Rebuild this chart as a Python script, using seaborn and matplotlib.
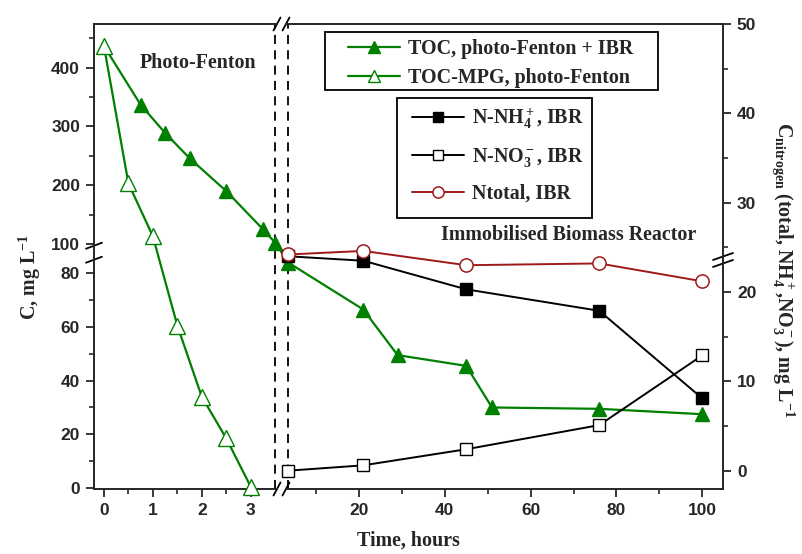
import numpy as np
import matplotlib
matplotlib.use("Agg")
import matplotlib.pyplot as plt
import seaborn as sns
from matplotlib.patches import ConnectionPatch, Rectangle
from matplotlib.ticker import FixedLocator

# photo-Fenton stage: time (h) and TOC (mg/L)
pf_time = [0, 0.75, 1.25, 1.75, 2.5, 3.25, 3.5]
pf_toc = [437, 337, 289, 246, 190, 125, 102]
mpg_time = [0, 0.5, 1.0, 1.5, 2.0, 2.5, 3.0]
mpg_toc = [437, 203, 113, 60.5, 34, 18.5, 0.5]

# immobilised biomass reactor stage
ibr_time = [3.5, 21, 29, 45, 51, 76, 100]
ibr_toc = [84, 66.5, 49.5, 45.5, 30, 29.5, 27.5]
n_time = [3.5, 21, 45, 76, 100]
nh4 = [24.0, 23.5, 20.3, 17.9, 8.1]
no3 = [0.0, 0.6, 2.4, 5.1, 12.9]
ntotal = [24.2, 24.6, 23.0, 23.2, 21.2]

GREEN = "#008000"
RED = "#9e1a1a"

sns.set_theme(style="ticks")
plt.rcParams.update({
    "font.family": "Liberation Sans",
    "font.weight": "bold",
    "axes.linewidth": 1.4,
    "mathtext.fontset": "custom",
    "mathtext.rm": "Liberation Serif:bold",
    "mathtext.it": "Liberation Serif:italic:bold",
    "mathtext.bf": "Liberation Serif:bold",
    "mathtext.default": "rm",
})
serif = dict(family="Liberation Serif", weight="bold", size=14.4)

W, H = 802, 554
fig = plt.figure(figsize=(W / 100, H / 100), dpi=100)


def px_rect(x0, y0, x1, y1):
    return [x0 / W, 1 - y1 / H, (x1 - x0) / W, (y1 - y0) / H]


# broken left axis: steep below the break, compressed above it
B = 88.4
def fwd(v):
    v = np.asarray(v, float)
    return np.where(v <= B, v * 2.684, B * 2.684 + (v - B) * 0.587)

def inv(p):
    p = np.asarray(p, float)
    return np.where(p <= B * 2.684, p / 2.684, B + (p - B * 2.684) / 0.587)

YLO, YHI = -0.37, 474.6

ax_l = fig.add_axes(px_rect(94, 24, 277, 489))
ax_r = fig.add_axes(px_rect(286, 24, 723, 489))
ax_n = ax_r.twinx()

for ax in (ax_l, ax_r):
    ax.set_yscale("function", functions=(fwd, inv))
    ax.set_ylim(YLO, YHI)
    ax.set_facecolor("none")
ax_l.set_xlim(-0.204, 3.538)
ax_r.set_xlim(2.98, 104.85)
ax_n.set_ylim(-2.05, 50.0)

# ticks
ax_l.yaxis.set_major_locator(FixedLocator([0, 20, 40, 60, 80, 100, 200, 300, 400]))
ax_l.yaxis.set_minor_locator(FixedLocator([10, 30, 50, 70, 150, 250, 350, 450]))
ax_l.xaxis.set_major_locator(FixedLocator([0, 1, 2, 3]))
ax_l.xaxis.set_minor_locator(FixedLocator([0.5, 1.5, 2.5]))
ax_r.xaxis.set_major_locator(FixedLocator([20, 40, 60, 80, 100]))
ax_r.xaxis.set_minor_locator(FixedLocator([10, 30, 50, 70, 90]))
ax_n.yaxis.set_major_locator(FixedLocator([0, 10, 20, 30, 40, 50]))
ax_n.yaxis.set_minor_locator(FixedLocator([5, 15, 25, 35, 45]))

for ax in (ax_l, ax_r, ax_n):
    ax.tick_params(which="major", direction="out", length=6, width=1.3,
                   labelsize=12.5, pad=4, top=False)
    ax.tick_params(which="minor", direction="out", length=3.5, width=1.2, top=False)
ax_l.tick_params(which="both", right=False)
ax_r.tick_params(which="both", left=False, labelleft=False, right=False, labelright=False)
ax_n.tick_params(which="both", bottom=False, labelbottom=False)

ax_l.spines["right"].set_visible(False)
ax_r.spines["left"].set_visible(False)
ax_r.spines["right"].set_visible(False)
for s in ("left", "top", "bottom"):
    ax_n.spines[s].set_visible(False)

# data lines
line_kw = dict(lw=1.6, clip_on=False)
sns.lineplot(x=pf_time, y=pf_toc, ax=ax_l, color=GREEN, marker="^", markersize=10,
             markerfacecolor=GREEN, markeredgecolor=GREEN, markeredgewidth=1, zorder=3, **line_kw)
h_toc = ax_l.lines[-1]
sns.lineplot(x=mpg_time, y=mpg_toc, ax=ax_l, color=GREEN, marker="^", markersize=11,
             markerfacecolor="white", markeredgecolor=GREEN, markeredgewidth=1, zorder=4, **line_kw)
h_mpg = ax_l.lines[-1]
sns.lineplot(x=ibr_time, y=ibr_toc, ax=ax_r, color=GREEN, marker="^", markersize=10,
             markerfacecolor=GREEN, markeredgecolor=GREEN, markeredgewidth=1, zorder=3, **line_kw)

con = ConnectionPatch(xyA=(pf_time[-1], pf_toc[-1]), coordsA=ax_l.transData,
                      xyB=(ibr_time[0], ibr_toc[0]), coordsB=ax_r.transData,
                      color=GREEN, lw=1.6)
ax_r.add_artist(con)
con.set_clip_on(False)

sns.lineplot(x=n_time, y=nh4, ax=ax_n, color="black", marker="s", markersize=8.5,
             markerfacecolor="black", markeredgecolor="black", markeredgewidth=1,
             lw=1.4, clip_on=False, zorder=3)
h_nh4 = ax_n.lines[-1]
sns.lineplot(x=n_time, y=no3, ax=ax_n, color="black", marker="s", markersize=9,
             markerfacecolor="white", markeredgecolor="black", markeredgewidth=1,
             lw=1.4, clip_on=False, zorder=3)
h_no3 = ax_n.lines[-1]
sns.lineplot(x=n_time, y=ntotal, ax=ax_n, color=RED, marker="o", markersize=9.5,
             markerfacecolor="white", markeredgecolor=RED, markeredgewidth=1.1,
             lw=1.4, clip_on=False, zorder=4)
h_nt = ax_n.lines[-1]

for ax in (ax_l, ax_r, ax_n):
    ax.set_xlabel("")
    ax.set_ylabel("")

# dashed separators between the two stages
ax_l.axvline(3.5, color="black", lw=1.3, ls=(0, (5, 3.5)), zorder=1)
ax_r.axvline(3.5, color="black", lw=1.3, ls=(0, (5, 3.5)), zorder=1)


# break marks
def slash(ax, xf, yf, dx, dy):
    pos = ax.get_position()
    w, h = pos.width * W, pos.height * H
    ax.plot([xf - dx / w, xf + dx / w], [yf - dy / h, yf + dy / h],
            transform=ax.transAxes, color="black", lw=1.3, clip_on=False)

for yf in (0, 1):
    slash(ax_l, 1, yf, 3.5, 6.5)
    slash(ax_r, 0, yf, 3.5, 6.5)
kink = float((fwd(B) - fwd(YLO)) / (fwd(YHI) - fwd(YLO)))
slash(ax_l, 0, kink + 5 / 465, 8, 3)
slash(ax_l, 0, kink - 9 / 465, 8, 3)
slash(ax_n, 1, 0.5, 10, 3.5)
slash(ax_n, 1, 0.485, 10, 3.5)

# legends with square frames
fig.add_artist(Rectangle((325 / W, 1 - 90 / H), (658 - 325) / W, (90 - 31.7) / H,
                         transform=fig.transFigure, facecolor="white",
                         edgecolor="black", lw=1.3, zorder=2))
fig.add_artist(Rectangle((397 / W, 1 - 218 / H), (592 - 397) / W, (218 - 98) / H,
                         transform=fig.transFigure, facecolor="white",
                         edgecolor="black", lw=1.3, zorder=2))
leg_kw = dict(loc="upper left", frameon=False, borderpad=0, borderaxespad=0,
              handlelength=2.6, handletextpad=0.4, prop=serif, markerscale=0.85)
fig.legend([h_toc, h_mpg], ["TOC, photo-Fenton + IBR", "TOC-MPG, photo-Fenton"],
           bbox_to_anchor=(348 / W, 1 - 39 / H), labelspacing=0.45, **leg_kw)
fig.legend([h_nh4, h_no3, h_nt],
           [r"N-NH$_4^+$, IBR", r"N-NO$_3^-$, IBR", "Ntotal, IBR"],
           bbox_to_anchor=(412 / W, 1 - 106 / H), labelspacing=0.75, **leg_kw)

# annotations and axis titles
fig.text(198 / W, 1 - 63 / H, "Photo-Fenton", ha="center", va="center", **serif)
fig.text(569 / W, 1 - 235 / H, "Immobilised Biomass Reactor", ha="center", va="center", **serif)
fig.text(408 / W, 1 - 541 / H, "Time, hours", ha="center", va="center", **serif)
fig.text(30 / W, 1 - 277 / H, r"C, mg L$^{-1}$", rotation=90, ha="center", va="center", **serif)
fig.text(783 / W, 1 - 270 / H,
         r"C$_{nitrogen}$ (total, NH$_4^+$,NO$_3^-$), mg L$^{-1}$",
         rotation=270, ha="center", va="center", **serif)

fig.savefig("out.png", dpi=100)
